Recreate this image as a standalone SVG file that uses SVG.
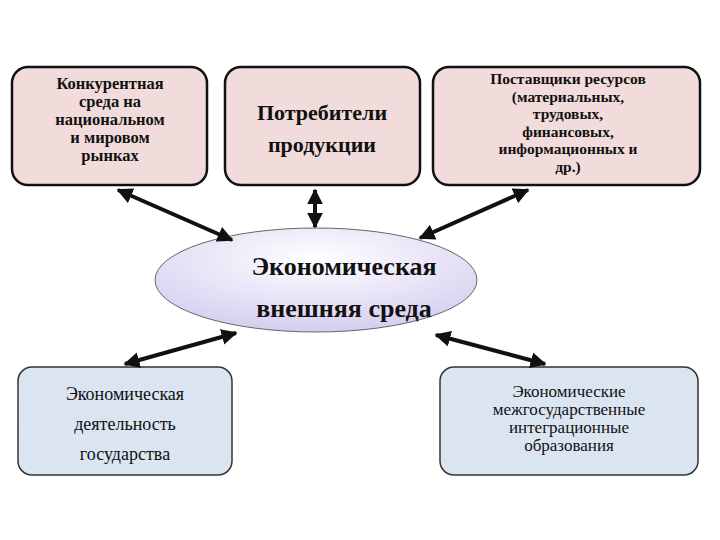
<svg xmlns="http://www.w3.org/2000/svg" width="720" height="540" viewBox="0 0 720 540" font-family="'Liberation Serif','DejaVu Serif','Times New Roman',serif">
<defs>
<marker id="ah" viewBox="0 0 10 10" refX="9" refY="5" markerWidth="4" markerHeight="4" orient="auto-start-reverse"><path d="M0,0L10,5L0,10z" fill="#111"/></marker>
<radialGradient id="eg" cx="0.5" cy="0.3" r="0.7"><stop offset="0" stop-color="#ffffff"/><stop offset="1" stop-color="#d6cdf0"/></radialGradient>
</defs>
<style>
.top{fill:#f2dcdb;stroke:#111;stroke-width:2.5}
.bot{fill:#dbe5f1;stroke:#333;stroke-width:1.5}
text{text-anchor:middle;fill:#111}
.b{font-weight:bold}
.c line{stroke:#111;stroke-width:4;marker-start:url(#ah);marker-end:url(#ah)}
</style>
<rect width="720" height="540" fill="#fff"/>
<g id="n1"><rect class="top" x="12" y="67" width="195" height="118" rx="16"/>
<text class="b" font-size="16.5"><tspan x="110" y="89">Конкурентная</tspan><tspan x="110" y="107">среда на</tspan><tspan x="110" y="125">национальном</tspan><tspan x="110" y="143">и мировом</tspan><tspan x="110" y="161">рынках</tspan></text></g>
<g id="n2"><rect class="top" x="225" y="67" width="195" height="118" rx="16"/>
<text class="b" font-size="22"><tspan x="322" y="120">Потребители</tspan><tspan x="322" y="152">продукции</tspan></text></g>
<g id="n3"><rect class="top" x="433" y="67" width="267" height="118" rx="16"/>
<text class="b" font-size="15.5"><tspan x="568" y="84">Поставщики ресурсов</tspan><tspan x="568" y="101.5">(материальных,</tspan><tspan x="568" y="119">трудовых,</tspan><tspan x="568" y="136.5">финансовых,</tspan><tspan x="568" y="154">информационных и</tspan><tspan x="568" y="171.5">др.)</tspan></text></g>
<g id="n4"><ellipse cx="316" cy="280" rx="161" ry="52" fill="url(#eg)" stroke="#666" stroke-width="1"/>
<text class="b" font-size="26"><tspan x="344" y="275">Экономическая</tspan><tspan x="344" y="317">внешняя среда</tspan></text></g>
<g id="n5"><rect class="bot" x="18" y="367" width="214" height="108" rx="14"/>
<text font-size="18"><tspan x="125" y="400">Экономическая</tspan><tspan x="125" y="430">деятельность</tspan><tspan x="125" y="460">государства</tspan></text></g>
<g id="n6"><rect class="bot" x="440" y="367" width="258" height="108" rx="14"/>
<text font-size="17"><tspan x="569" y="397">Экономические</tspan><tspan x="569" y="415">межгосударственные</tspan><tspan x="569" y="433">интеграционные</tspan><tspan x="569" y="451">образования</tspan></text></g>
<g class="c">
<line x1="118" y1="190" x2="232" y2="240"/>
<line x1="315" y1="190" x2="315" y2="227"/>
<line x1="528" y1="190" x2="420" y2="238"/>
<line x1="125" y1="364" x2="236" y2="333"/>
<line x1="545" y1="364" x2="436" y2="335"/>
</g>
</svg>
